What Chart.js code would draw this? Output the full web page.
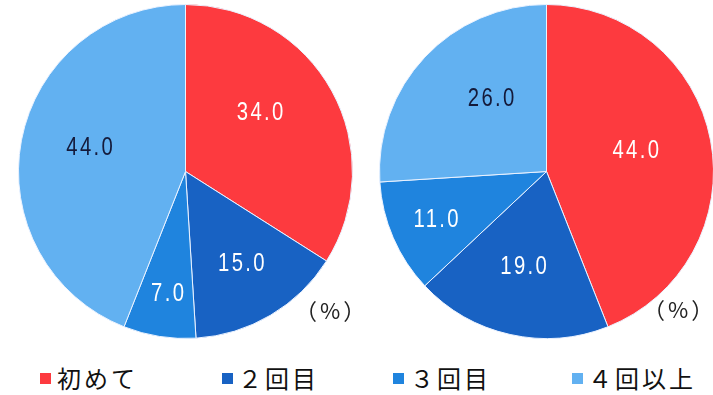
<!DOCTYPE html>
<html>
<head>
<meta charset="utf-8">
<script src="https://cdn.jsdelivr.net/npm/chart.js@4.4.1/dist/chart.umd.min.js"></script>
<style>
  html, body { margin: 0; padding: 0; width: 713px; height: 395px; overflow: hidden; background: #fff; }
  .pie { position: absolute; top: 4px; width: 335px; height: 335px; }
  .pct { position: absolute; font-family: "Noto Sans CJK JP", sans-serif; font-size: 22px; color: #222; line-height: 22px; letter-spacing: 3px; white-space: nowrap; }
  .lg { position: absolute; top: 365px; font-family: "Noto Sans CJK JP", sans-serif; font-size: 24px; line-height: 26px; color: #111; letter-spacing: 3px; white-space: nowrap; }
  .sw { position: absolute; top: 373px; width: 11px; height: 11px; }
</style>
</head>
<body>
<div class="pie" style="left:18px"><canvas id="c1"></canvas></div>
<div class="pie" style="left:379px"><canvas id="c2"></canvas></div>
<div class="pct" style="left:295px; top:298px">（%）</div>
<div class="pct" style="left:643px; top:297px">（%）</div>
<div id="legend"></div>
<script>
const categories = ["初めて", "２回目", "３回目", "４回以上"];
const leftValues = [34.0, 15.0, 7.0, 44.0];
const rightValues = [44.0, 19.0, 11.0, 26.0];
const colors = ["#fd3a3f", "#1862c3", "#1f84de", "#62b1f1"];
const labelColors = ["#ffffff", "#ffffff", "#ffffff", "#141a3a"];

const labelPlugin = {
  id: 'sliceLabels',
  afterDatasetsDraw(chart, args, opts) {
    const ctx = chart.ctx;
    const meta = chart.getDatasetMeta(0);
    const data = chart.data.datasets[0].data;
    meta.data.forEach((arc, i) => {
      const p = arc.getProps(['x', 'y', 'startAngle', 'endAngle', 'outerRadius'], true);
      const mid = (p.startAngle + p.endAngle) / 2 + (opts.angleShift ? opts.angleShift[i] : 0);
      const r = p.outerRadius * opts.radius[i];
      ctx.save();
      ctx.translate(p.x + Math.cos(mid) * r + 1, p.y + Math.sin(mid) * r);
      ctx.scale(0.78, 1);
      ctx.font = '26px "Liberation Sans", sans-serif';
      ctx.letterSpacing = '3px';
      ctx.textAlign = 'center';
      ctx.textBaseline = 'middle';
      ctx.fillStyle = labelColors[i];
      ctx.fillText(data[i].toFixed(1), 2, 0);
      ctx.restore();
    });
  }
};

function makePie(id, values, radius, angleShift) {
  return new Chart(document.getElementById(id), {
    type: 'pie',
    data: {
      labels: categories,
      datasets: [{ data: values, backgroundColor: colors, borderColor: '#eaf2ff', borderWidth: 1 }]
    },
    options: {
      responsive: true,
      maintainAspectRatio: false,
      animation: false,
      layout: { padding: 0 },
      plugins: {
        legend: { display: false },
        tooltip: { enabled: false },
        sliceLabels: { radius: radius, angleShift: angleShift }
      }
    },
    plugins: [labelPlugin]
  });
}

makePie('c1', leftValues, [0.56, 0.64, 0.74, 0.6], [-0.17, 0, 0, 0.05]);
makePie('c2', rightValues, [0.54, 0.59, 0.73, 0.55], [-0.04, 0.03, 0, 0.15]);

const legendSw = [40, 222, 393, 572];
const legendTx = [57, 238, 410, 588];
const lg = document.getElementById('legend');
categories.forEach((c, i) => {
  const s = document.createElement('div');
  s.className = 'sw';
  s.style.left = legendSw[i] + 'px';
  s.style.background = colors[i];
  lg.appendChild(s);
  const t = document.createElement('div');
  t.className = 'lg';
  t.style.left = legendTx[i] + 'px';
  t.textContent = c;
  lg.appendChild(t);
});
</script>
</body>
</html>
